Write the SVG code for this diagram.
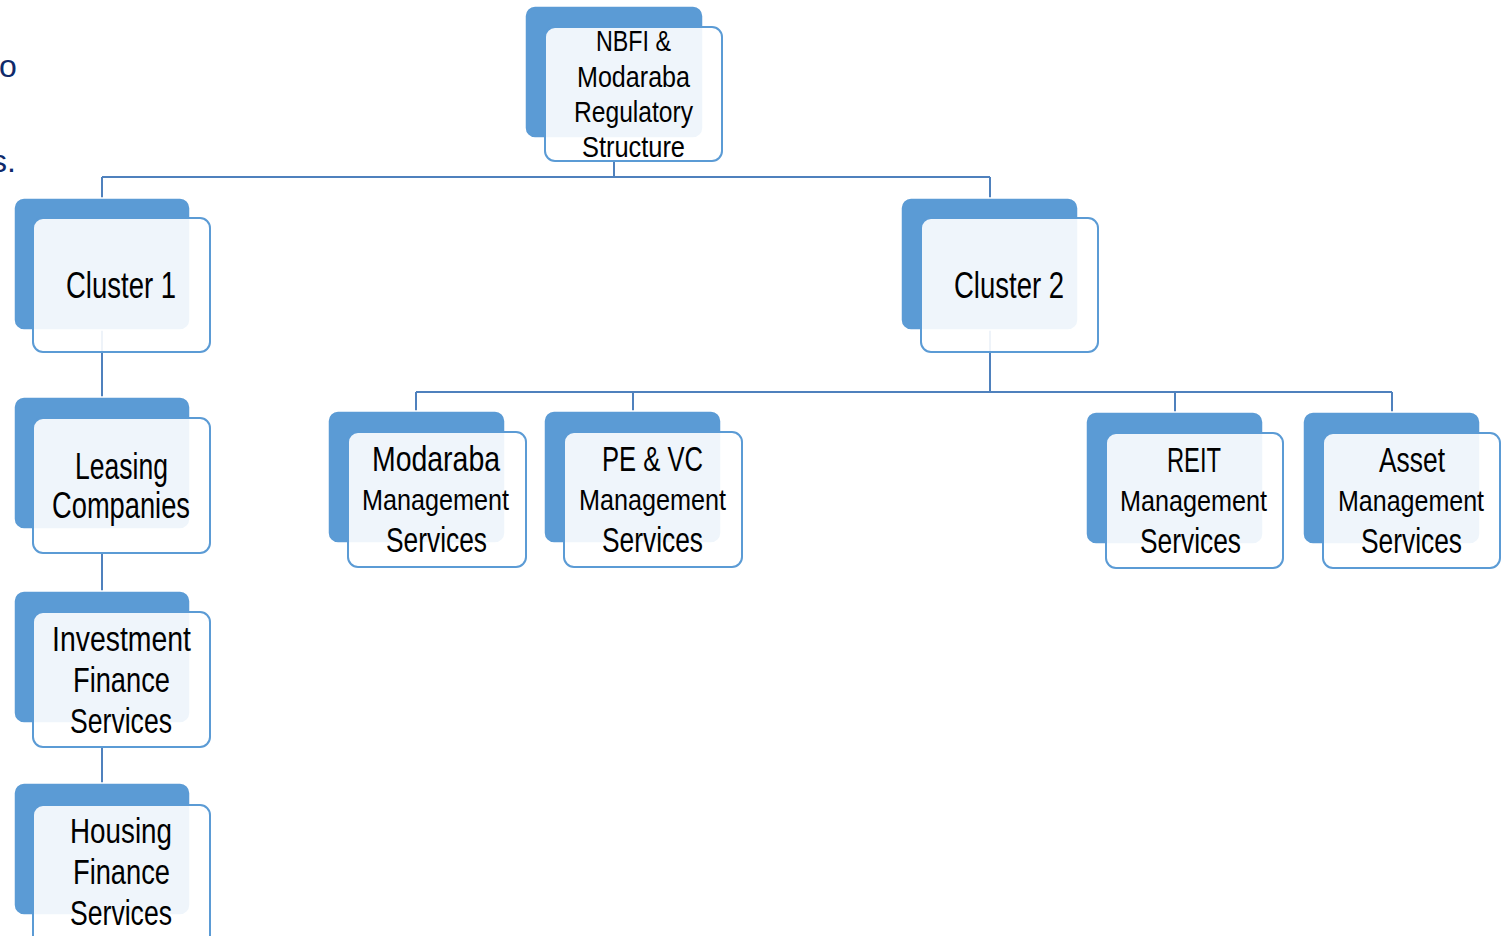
<svg xmlns="http://www.w3.org/2000/svg" width="1506" height="936" viewBox="0 0 1506 936">
<style>
.back{fill:#5B9BD5;stroke:#ffffff;stroke-width:1.5}
.front{fill:#FFFFFF;fill-opacity:0.9;stroke:#5B9BD5;stroke-width:2}
.t{font-family:"Liberation Sans",Arial,sans-serif;fill:#000000;text-anchor:start}
.conn{fill:none;stroke:#4F81BD;stroke-width:2}
.side{font-family:"Liberation Sans",Arial,sans-serif;fill:#0F2A6B;font-size:32px}
</style>
<rect width="1506" height="936" fill="#ffffff"/>
<text class="side" x="-1" y="77">o</text>
<text class="side" x="-9" y="172">s.</text>
<g id="connectors">
<path class="conn" d="M614 161V177M102 177H990M102 177V198M990 177V198"/>
<path class="conn" d="M102 330V397M102 553V591M102 747V783"/>
<path class="conn" d="M990 330V392M416 392H1392M416 392V411M633 392V411M1175 392V412M1392 392V412"/>
</g>
<g id="n_root">
<rect class="back" x="525" y="6" width="178" height="132" rx="10"/>
<rect class="front" x="545" y="27" width="177" height="134" rx="10"/>
<text class="t" x="596" y="51" font-size="29" textLength="75" lengthAdjust="spacingAndGlyphs">NBFI &amp;</text>
<text class="t" x="577" y="87" font-size="29" textLength="113" lengthAdjust="spacingAndGlyphs">Modaraba</text>
<text class="t" x="574" y="122" font-size="29" textLength="119" lengthAdjust="spacingAndGlyphs">Regulatory</text>
<text class="t" x="582" y="157" font-size="29" textLength="103" lengthAdjust="spacingAndGlyphs">Structure</text>
</g>
<g id="n_cluster1">
<rect class="back" x="14" y="198" width="176" height="132" rx="10"/>
<rect class="front" x="33" y="218" width="177" height="134" rx="10"/>
<text class="t" x="66" y="298" font-size="37" textLength="110" lengthAdjust="spacingAndGlyphs">Cluster 1</text>
</g>
<g id="n_cluster2">
<rect class="back" x="901" y="198" width="177" height="132" rx="10"/>
<rect class="front" x="921" y="218" width="177" height="134" rx="10"/>
<text class="t" x="954" y="298" font-size="37" textLength="110" lengthAdjust="spacingAndGlyphs">Cluster 2</text>
</g>
<g id="n_leasing">
<rect class="back" x="14" y="397" width="176" height="132" rx="10"/>
<rect class="front" x="33" y="418" width="177" height="135" rx="10"/>
<text class="t" x="75" y="479" font-size="36" textLength="93" lengthAdjust="spacingAndGlyphs">Leasing</text>
<text class="t" x="52" y="518" font-size="36" textLength="138" lengthAdjust="spacingAndGlyphs">Companies</text>
</g>
<g id="n_investment">
<rect class="back" x="14" y="591" width="176" height="132" rx="10"/>
<rect class="front" x="33" y="612" width="177" height="135" rx="10"/>
<text class="t" x="52" y="651" font-size="35" textLength="139" lengthAdjust="spacingAndGlyphs">Investment</text>
<text class="t" x="73" y="692" font-size="35" textLength="97" lengthAdjust="spacingAndGlyphs">Finance</text>
<text class="t" x="70" y="733" font-size="35" textLength="102" lengthAdjust="spacingAndGlyphs">Services</text>
</g>
<g id="n_housing">
<rect class="back" x="14" y="783" width="176" height="132" rx="10"/>
<rect class="front" x="33" y="805" width="177" height="140" rx="10"/>
<text class="t" x="70" y="843" font-size="35" textLength="102" lengthAdjust="spacingAndGlyphs">Housing</text>
<text class="t" x="73" y="884" font-size="35" textLength="97" lengthAdjust="spacingAndGlyphs">Finance</text>
<text class="t" x="70" y="925" font-size="35" textLength="102" lengthAdjust="spacingAndGlyphs">Services</text>
</g>
<g id="n_modaraba">
<rect class="back" x="328" y="411" width="177" height="132" rx="10"/>
<rect class="front" x="348" y="432" width="178" height="135" rx="10"/>
<text class="t" x="372" y="471" font-size="35" textLength="128" lengthAdjust="spacingAndGlyphs">Modaraba</text>
<text class="t" x="362" y="510" font-size="30" textLength="147" lengthAdjust="spacingAndGlyphs">Management</text>
<text class="t" x="386" y="552" font-size="35" textLength="101" lengthAdjust="spacingAndGlyphs">Services</text>
</g>
<g id="n_pevc">
<rect class="back" x="544" y="411" width="177" height="132" rx="10"/>
<rect class="front" x="564" y="432" width="178" height="135" rx="10"/>
<text class="t" x="602" y="471" font-size="35" textLength="101" lengthAdjust="spacingAndGlyphs">PE &amp; VC</text>
<text class="t" x="579" y="510" font-size="30" textLength="147" lengthAdjust="spacingAndGlyphs">Management</text>
<text class="t" x="602" y="552" font-size="35" textLength="101" lengthAdjust="spacingAndGlyphs">Services</text>
</g>
<g id="n_reit">
<rect class="back" x="1086" y="412" width="177" height="132" rx="10"/>
<rect class="front" x="1106" y="433" width="177" height="135" rx="10"/>
<text class="t" x="1167" y="472" font-size="35" textLength="54" lengthAdjust="spacingAndGlyphs">REIT</text>
<text class="t" x="1120" y="511" font-size="30" textLength="147" lengthAdjust="spacingAndGlyphs">Management</text>
<text class="t" x="1140" y="553" font-size="35" textLength="101" lengthAdjust="spacingAndGlyphs">Services</text>
</g>
<g id="n_asset">
<rect class="back" x="1303" y="412" width="177" height="132" rx="10"/>
<rect class="front" x="1323" y="433" width="177" height="135" rx="10"/>
<text class="t" x="1379" y="472" font-size="35" textLength="66" lengthAdjust="spacingAndGlyphs">Asset</text>
<text class="t" x="1338" y="511" font-size="30" textLength="146" lengthAdjust="spacingAndGlyphs">Management</text>
<text class="t" x="1361" y="553" font-size="35" textLength="101" lengthAdjust="spacingAndGlyphs">Services</text>
</g>
</svg>
